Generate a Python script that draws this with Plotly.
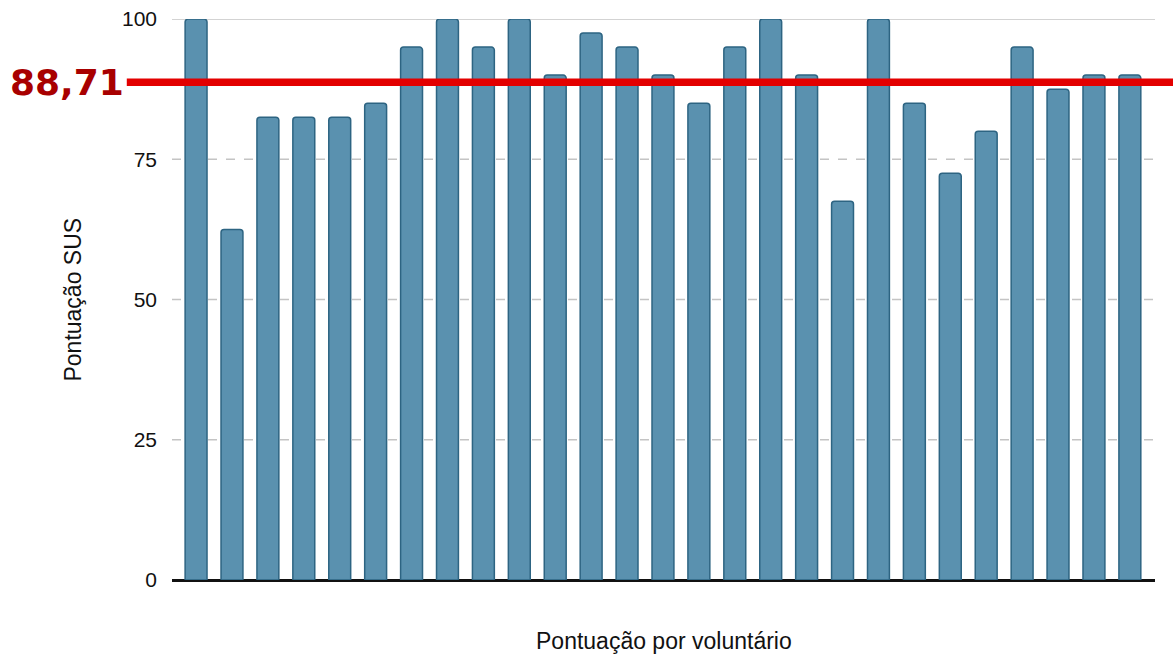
import plotly.graph_objects as go

# SUS score of each volunteer
volunteers = [f"V{i}" for i in range(1, 28)]
sus_scores = [100, 62.5, 82.5, 82.5, 82.5, 85, 95, 100, 95, 100, 90, 97.5, 95, 90,
              85, 95, 100, 90, 67.5, 100, 85, 72.5, 80, 95, 87.5, 90, 90]
mean_score = 88.71
mean_label = "88,71"
y_ticks = [0, 25, 50, 75, 100]
x_title = "Pontuação por voluntário"
y_title = "Pontuação SUS"

fig = go.Figure()
fig.add_trace(go.Bar(
    x=list(range(len(volunteers))), y=sus_scores,
    customdata=volunteers,
    marker=dict(color="#5a91af", line=dict(color="#2d6482", width=1.5), cornerradius=3),
    hovertemplate="%{customdata}: %{y}<extra></extra>",
))

# gridlines (dashed for the inner ones)
for t in y_ticks[1:]:
    fig.add_shape(type="line", xref="paper", yref="y", x0=0, x1=1, y0=t, y1=t,
                  line=dict(color="#c4c4c4", width=1.5, dash="solid" if t == 100 else "dash"),
                  layer="below")

# mean line and its label
fig.add_shape(type="line", xref="paper", yref="y", x0=-0.046, x1=1.03,
              y0=mean_score, y1=mean_score,
              line=dict(color="#e30000", width=7.5), layer="above")
fig.add_annotation(xref="paper", yref="y", x=-0.047, y=mean_score, text=f"<b>{mean_label}</b>",
                   showarrow=False, xanchor="right", yanchor="middle",
                   font=dict(family="DejaVu Sans", size=36, color="#a80000"))

# axis titles
fig.add_annotation(xref="paper", yref="paper", x=0.5, y=-0.109, text=x_title,
                   showarrow=False, xanchor="center", yanchor="middle",
                   font=dict(family="Liberation Sans, Arial", size=23, color="#111"))
fig.add_annotation(xref="paper", yref="paper", x=-0.1017, y=0.5, text=y_title,
                   textangle=-90, showarrow=False, xanchor="center", yanchor="middle",
                   font=dict(family="Liberation Sans, Arial", size=23, color="#111"))

fig.update_layout(
    width=1173, height=655,
    margin=dict(l=172, r=18, t=19, b=75),
    paper_bgcolor="white", plot_bgcolor="white",
    bargap=0.39, showlegend=False,
    font=dict(family="Liberation Sans, Arial", size=21, color="#111"),
)
fig.update_xaxes(showticklabels=False, showgrid=False, ticks="", range=[-0.67, 26.7],
                 automargin=False)
fig.update_yaxes(range=[0, 100], tickvals=y_ticks, showgrid=False, zeroline=True,
                 zerolinecolor="#111", zerolinewidth=2.5, showline=False,
                 ticks="", ticklabelstandoff=14, automargin=False)

fig.write_html("out.html")
